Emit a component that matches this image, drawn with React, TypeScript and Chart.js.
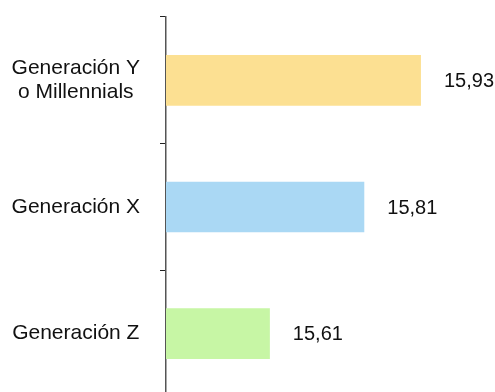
import React, { useEffect, useRef } from "react";
import { Chart, registerables } from "chart.js";

Chart.register(...registerables);

const categories: (string | string[])[] = [
  ["Generación Y", "o Millennials"],
  "Generación X",
  "Generación Z",
];
const values: number[] = [15.93, 15.81, 15.61];
const valueLabels: string[] = ["15,93", "15,81", "15,61"];
const barColors: string[] = ["#FCE092", "#AAD8F4", "#C7F6A5"];

const FONT = "'Liberation Sans', Arial, sans-serif";

const labelPlugin = {
  id: "valueLabels",
  afterDatasetsDraw(chart: any) {
    const ctx = chart.ctx;
    const meta = chart.getDatasetMeta(0);
    ctx.save();
    ctx.font = `20px ${FONT}`;
    ctx.fillStyle = "#111111";
    ctx.textAlign = "left";
    ctx.textBaseline = "middle";
    meta.data.forEach((el: any, i: number) => {
      ctx.fillText(valueLabels[i], el.x + 23, el.y + 1);
    });
    ctx.restore();
  },
};

export default function App() {
  const ref = useRef<HTMLCanvasElement>(null);
  useEffect(() => {
    if (!ref.current) return;
    const chart = new Chart(ref.current, {
      type: "bar",
      data: {
        labels: categories,
        datasets: [
          {
            data: values,
            backgroundColor: barColors,
            borderWidth: 0,
            barPercentage: 0.4,
            categoryPercentage: 1,
          },
        ],
      },
      options: {
        indexAxis: "y",
        responsive: false,
        animation: false,
        layout: { padding: { left: 0, right: 41, top: 17, bottom: 3 } },
        plugins: { legend: { display: false }, tooltip: { enabled: false } },
        scales: {
          x: { display: false, min: 15.39, max: 16.0 },
          y: {
            grid: {
              drawOnChartArea: false,
              drawTicks: true,
              tickLength: 6,
              color: "#222222",
              offset: true,
            },
            border: { display: true, color: "#555555", width: 1.5 },
            ticks: {
              crossAlign: "center",
              padding: 20,
              color: "#111111",
              font: { family: FONT, size: 21, lineHeight: 1.15 },
            },
            afterFit: (scale: any) => {
              scale.width = 166;
              scale.paddingTop = 0;
              scale.paddingBottom = 0;
            },
          },
        },
      },
      plugins: [labelPlugin],
    });
    return () => chart.destroy();
  }, []);
  return (
    <div
      style={{
        position: "fixed",
        left: 0,
        top: 0,
        width: 495,
        height: 392,
        overflow: "hidden",
        background: "#fff",
      }}
    >
      <canvas ref={ref} width={495} height={400} style={{ display: "block" }} />
    </div>
  );
}
